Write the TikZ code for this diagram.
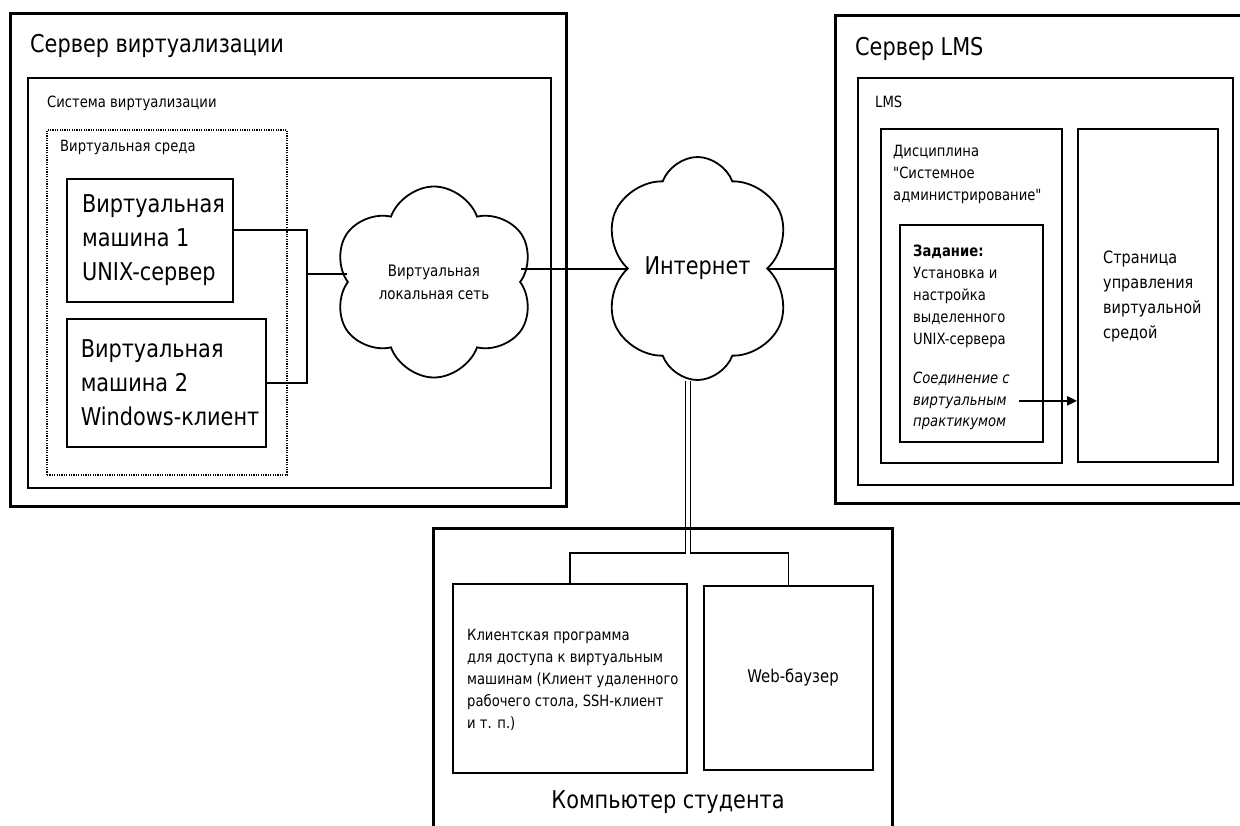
\documentclass[tikz,border=0pt]{standalone}
\usepackage{fontspec}
\setmainfont{DejaVu Sans}[FakeStretch=0.85,Ligatures=TeXOff]
\usetikzlibrary{arrows,arrows.meta,shapes,positioning,calc}

\begin{document}
\begin{tikzpicture}[x=1pt,y=-1pt,>={Triangle[length=10pt,width=9pt]},
  srvbox/.style={draw,line width=3pt,inner sep=0pt},
  subbox/.style={draw,line width=1.8pt,inner sep=0pt},
  net/.style={draw,cloud,cloud puffs=6,cloud puff arc=140,cloud ignores aspect,line width=1.8pt,align=center},
  wire/.style={line width=2pt},
  bigtxt/.style={inner sep=0pt,font=\fontsize{24.5}{34}\selectfont},
  smalltxt/.style={inner sep=0pt,align=left,font=\fontsize{15.5}{22}\selectfont}]
\useasboundingbox (0,0) rectangle (1240,825);
\clip (0,0) rectangle (1240,825);

% virtualization server
\node[srvbox,minimum width=556,minimum height=493] (srv) at (288,259.5) {};
\node[bigtxt,anchor=west] (srvname) at (30,46) {Сервер виртуализации};
\node[subbox,minimum width=523,minimum height=410] (virt) at (289.5,283) {};
\node[smalltxt,anchor=west] (virtname) at (47,103) {Система виртуализации};
\node[draw,line width=1.2pt,dash pattern=on 1.2pt off 1.2pt,minimum width=240,minimum height=345,inner sep=0pt] (env) at (167,302.5) {};
\node[smalltxt,anchor=west] (envname) at (60,147) {Виртуальная среда};
\node[subbox,bigtxt,align=left,minimum width=166,minimum height=123] (vm1) at (150,240.5) {\hspace{7pt}Виртуальная\\\hspace{7pt}машина 1\\\hspace{7pt}UNIX-сервер};
\node[subbox,bigtxt,align=left,minimum width=199,minimum height=128] (vm2) at (166.5,383) {\hspace{7pt}Виртуальная\\\hspace{7pt}машина 2\\\hspace{7pt}Windows-клиент};
\coordinate (bus) at (307,274);
\node[net,minimum width=202,minimum height=191,font=\fontsize{15.8}{23}\selectfont] (lan) at (434,282) {Виртуальная\\локальная сеть};
\draw[wire] ([yshift=11]vm1.east) -| (bus) |- (vm2.east);
\draw[wire] (bus) -- (lan.west |- bus);

% internet
\node[net,minimum width=191,minimum height=223,font=\fontsize{24.5}{28}\selectfont] (inet) at (697.5,268.5) {Интернет};
\draw[wire] (lan.east |- inet.west) -- (inet.west);

% LMS server
\node[srvbox,minimum width=425,minimum height=488] (lmssrv) at (1047.5,259) {};
\node[bigtxt,anchor=west] (lmssrvname) at (855,49) {Сервер LMS};
\node[subbox,minimum width=375,minimum height=407] (lms) at (1045.5,281.5) {};
\node[smalltxt,anchor=west] (lmsname) at (875,102) {LMS};
\node[subbox,minimum width=181,minimum height=334] (disc) at (971.5,296) {};
\node[smalltxt,anchor=base west] (discname) at (893,200.5) {Дисциплина\\"Системное\\администрирование"};
\node[subbox,minimum width=143,minimum height=217] (task) at (971.5,333.5) {};
\node[smalltxt,anchor=base west] (taskname) at (913,344.5) {\textbf{Задание:}\\Установка и\\настройка\\выделенного\\UNIX-сервера};
\node[smalltxt,anchor=base west,font=\fontsize{15.5}{21.5}\selectfont\itshape] (link) at (913,426.5) {Соединение с\\виртуальным\\практикумом};
\node[subbox,minimum width=140,minimum height=333] (page) at (1148,295.5) {};
\node[smalltxt,anchor=base west,font=\fontsize{17}{25}\selectfont] (pagename) at (1103,338) {Страница\\управления\\виртуальной\\средой};
\draw[wire,->] ([xshift=9]link.east) -- (link.east -| page.west);
\draw[wire] (inet.east) -- (inet.east -| lmssrv.west);

% student computer
\node[srvbox,minimum width=459,minimum height=340] (pc) at (662.5,698) {};
\node[bigtxt] (pcname) at (668,802) {Компьютер студента};
\node[subbox,minimum width=234,minimum height=189] (client) at (570,678.5) {};
\node[smalltxt,anchor=base west] (clientname) at (467,728.5) {Клиентская программа\\для доступа к виртуальным\\машинам (Клиент удаленного\\рабочего стола, SSH-клиент\\и т. п.)};
\node[subbox,minimum width=169,minimum height=184,font=\fontsize{17.5}{20}\selectfont] (web) at (788.5,678) {\hspace{9pt}Web-баузер};
\coordinate (split) at (0,553);
\draw[line width=1.5pt] ([xshift=-12]inet.south) |- (client.north |- split) -- (client.north);
\draw[line width=1.5pt] ([xshift=-7]inet.south) |- (web.north |- split) -- (web.north);
\end{tikzpicture}
\end{document}
